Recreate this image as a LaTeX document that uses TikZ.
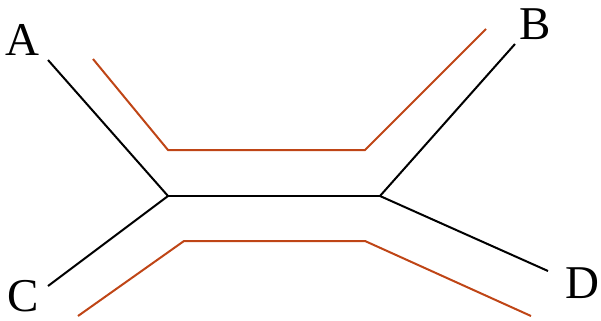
\documentclass[tikz,border=0pt]{standalone}
\usepackage{fontspec}
\setmainfont{Liberation Serif}
\usepackage{xcolor}
\definecolor{pathred}{HTML}{BF4516}
\usepackage{tikz}
\usetikzlibrary{positioning}

\begin{document}
\begin{tikzpicture}[
    x=0.5pt, y=-0.5pt,
    branch/.style={line width=1pt, color=black, line join=miter},
    route/.style={line width=1pt, color=pathred, line join=miter},
    leaf/.style={font=\fontsize{23.5}{28}\selectfont, inner sep=0pt},
]
    \useasboundingbox (0,0) rectangle (601,321);
    % tree
    \coordinate (u) at (168,196);
    \coordinate (v) at (380,196);
    \coordinate (a) at (48,60);
    \coordinate (b) at (515,44);
    \coordinate (c) at (48,286);
    \coordinate (d) at (548,271);
    \node[leaf] (la) at (22,40) {A};
    \node[leaf] (lb) at (535,24) {B};
    \node[leaf] (lc) at (23,296) {C};
    \node[leaf] (ld) at (582,283) {D};

    \draw[branch] (a) -- (u);
    \draw[branch] (c) -- (u);
    \draw[branch] (u) -- (v);
    \draw[branch] (v) -- (b);
    \draw[branch] (v) -- (d);

    % paths
    \coordinate (p1) at (93,59);
    \coordinate (p2) at (168,150);
    \coordinate (p3) at (365,150);
    \coordinate (p4) at (486,29);
    \coordinate (q1) at (78,316);
    \coordinate (q2) at (184,241);
    \coordinate (q3) at (365,241);
    \coordinate (q4) at (531,316);

    \draw[route] (p1) -- (p2) -- (p3) -- (p4);
    \draw[route] (q1) -- (q2) -- (q3) -- (q4);
\end{tikzpicture}
\end{document}
